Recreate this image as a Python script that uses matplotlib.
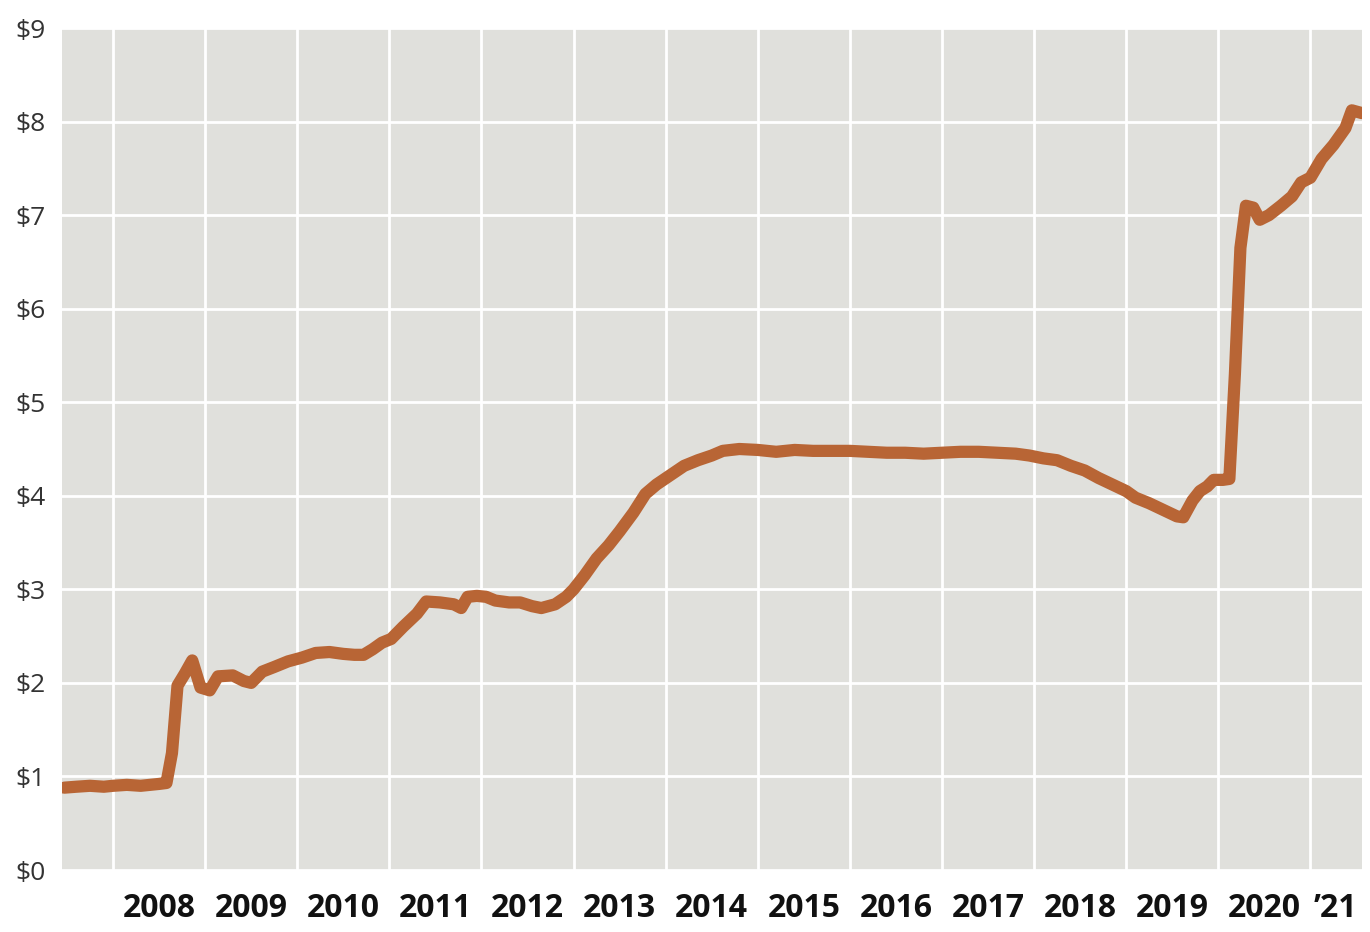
import matplotlib
matplotlib.use("Agg")
import matplotlib.pyplot as plt
from matplotlib.ticker import FixedLocator, NullFormatter, FixedFormatter

# ---- data (decimal years, dollars) ----
dates = [2007.47, 2007.6, 2007.75, 2007.9, 2008.0, 2008.15, 2008.3, 2008.4, 2008.5, 2008.58,
         2008.64, 2008.70, 2008.78, 2008.86, 2008.95, 2009.05, 2009.14, 2009.3, 2009.42, 2009.5,
         2009.62, 2009.75, 2009.9, 2010.05, 2010.2, 2010.35, 2010.5, 2010.62, 2010.72, 2010.82,
         2010.92, 2011.02, 2011.15, 2011.3, 2011.4, 2011.55, 2011.7, 2011.78, 2011.85, 2011.95,
         2012.05, 2012.15, 2012.3, 2012.42, 2012.55, 2012.65, 2012.8, 2012.92, 2013.0, 2013.12,
         2013.25, 2013.38, 2013.5, 2013.65, 2013.78, 2013.9, 2014.05, 2014.2, 2014.35, 2014.5,
         2014.62, 2014.8, 2015.0, 2015.2, 2015.4, 2015.6, 2015.8, 2016.0, 2016.2, 2016.4,
         2016.6, 2016.8, 2017.0, 2017.2, 2017.4, 2017.6, 2017.8, 2017.95, 2018.1, 2018.25,
         2018.4, 2018.55, 2018.7, 2018.85, 2019.0, 2019.1, 2019.25, 2019.4, 2019.55, 2019.62,
         2019.72, 2019.8, 2019.88, 2019.95, 2020.05, 2020.12, 2020.18, 2020.24, 2020.30, 2020.38,
         2020.45, 2020.55, 2020.68, 2020.8, 2020.9, 2021.0, 2021.12, 2021.25, 2021.38, 2021.45,
         2021.56]
prices = [0.88, 0.89, 0.90, 0.89, 0.90, 0.91, 0.90, 0.91, 0.92, 0.93,
          1.25, 1.97, 2.10, 2.24, 1.95, 1.92, 2.07, 2.08, 2.02, 2.00,
          2.12, 2.17, 2.23, 2.27, 2.32, 2.33, 2.31, 2.30, 2.30, 2.36,
          2.43, 2.47, 2.60, 2.74, 2.87, 2.86, 2.84, 2.80, 2.92, 2.93,
          2.92, 2.88, 2.86, 2.86, 2.82, 2.80, 2.84, 2.92, 3.00, 3.15,
          3.33, 3.47, 3.62, 3.82, 4.02, 4.12, 4.22, 4.32, 4.38, 4.43,
          4.48, 4.50, 4.49, 4.47, 4.49, 4.48, 4.48, 4.48, 4.47, 4.46,
          4.46, 4.45, 4.46, 4.47, 4.47, 4.46, 4.45, 4.43, 4.40, 4.38,
          4.32, 4.27, 4.19, 4.12, 4.05, 3.98, 3.92, 3.85, 3.78, 3.77,
          3.95, 4.05, 4.10, 4.17, 4.17, 4.18, 5.30, 6.65, 7.10, 7.08,
          6.95, 7.00, 7.10, 7.20, 7.35, 7.40, 7.60, 7.75, 7.93, 8.12,
          8.09]

year_lines = list(range(2008, 2022))
year_label_pos = [y + 0.5 for y in range(2008, 2021)] + [2021.27]
year_labels = [str(y) for y in range(2008, 2021)] + ["\u201921"]
y_ticks = list(range(0, 10))
y_labels = [f"${v}" for v in y_ticks]

# ---- figure ----
fig = plt.figure(figsize=(13.7, 9.32), dpi=100)
ax = fig.add_axes([62 / 1370, 62 / 932, 1300 / 1370, 842 / 932])
ax.set_facecolor("#e0e0dc")
for s in ax.spines.values():
    s.set_visible(False)

ax.plot(dates, prices, color="#b86535", linewidth=8.8, solid_joinstyle="round",
        solid_capstyle="round", zorder=3)

ax.set_xlim(2007.446, 2021.56)
ax.set_ylim(0, 9)

ax.xaxis.set_major_locator(FixedLocator(year_lines))
ax.xaxis.set_major_formatter(NullFormatter())
ax.xaxis.set_minor_locator(FixedLocator(year_label_pos))
ax.xaxis.set_minor_formatter(FixedFormatter(year_labels))
ax.set_yticks(y_ticks)
ax.set_yticklabels(y_labels)

ax.grid(True, which="major", color="white", linewidth=2, zorder=1)
ax.set_axisbelow(True)
ax.tick_params(axis="both", which="both", length=0)
ax.tick_params(axis="x", which="minor", pad=16, labelsize=23)
ax.tick_params(axis="y", pad=12, labelsize=19, labelcolor="#333333")
for lbl in ax.xaxis.get_minorticklabels():
    lbl.set_fontfamily(["Open Sans", "DejaVu Sans"])
    lbl.set_fontweight("bold")
    lbl.set_color("#111111")
for lbl in ax.get_yticklabels():
    lbl.set_fontfamily(["Open Sans", "DejaVu Sans"])

fig.savefig("out.png", dpi=100, facecolor="white")
